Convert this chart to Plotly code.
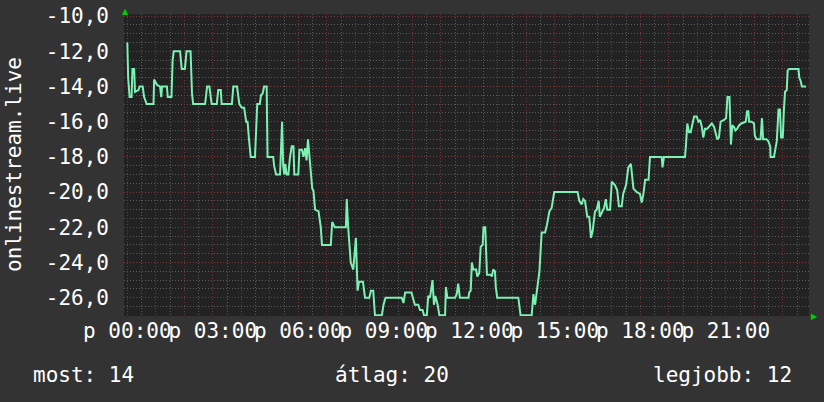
import plotly.graph_objects as go

# ---- data (hours since 00:00, temperature) ----
hours = [0.00, 0.03, 0.08, 0.15, 0.18, 0.24, 0.27, 0.39, 0.43, 0.54, 0.59, 0.68, 0.92, 0.94, 1.04, 1.15, 1.19, 1.22,
         1.39, 1.42, 1.55, 1.59, 1.63, 1.85, 1.91, 2.02, 2.08, 2.22, 2.27, 2.31, 2.73, 2.80, 2.88, 2.96, 3.14, 3.19,
         3.28, 3.31, 3.67, 3.72, 3.85, 3.93, 4.02, 4.10, 4.17, 4.22, 4.27, 4.33, 4.48, 4.51, 4.56, 4.65, 4.69, 4.75,
         4.80, 4.89, 4.92, 5.12, 5.15, 5.22, 5.36, 5.43, 5.47, 5.51, 5.54, 5.59, 5.65, 5.71, 5.77, 5.83, 5.86, 6.00,
         6.04, 6.13, 6.18, 6.24, 6.29, 6.34, 6.41, 6.49, 6.53, 6.59, 6.71, 6.79, 6.83, 7.14, 7.19, 7.28, 7.67, 7.70,
         7.75, 7.84, 7.93, 8.02, 8.08, 8.13, 8.27, 8.34, 8.49, 8.55, 8.63, 8.69, 8.93, 8.99, 9.06, 9.63, 9.69, 9.75,
         9.97, 10.03, 10.09, 10.21, 10.27, 10.36, 10.41, 10.51, 10.56, 10.62, 10.71, 10.76, 10.81, 10.89, 10.95,
         11.15, 11.18, 11.23, 11.50, 11.56, 11.61, 11.67, 11.97, 12.00, 12.05, 12.09, 12.14, 12.24, 12.28, 12.35,
         12.40, 12.47, 12.50, 12.56, 12.59, 12.62, 12.76, 12.79, 12.84, 12.90, 12.93, 12.98, 13.72, 13.80, 14.19,
         14.25, 14.31, 14.37, 14.46, 14.54, 14.66, 14.72, 14.81, 14.89, 14.98, 15.80, 15.86, 15.94, 16.00, 16.06,
         16.14, 16.21, 16.27, 16.33, 16.41, 16.47, 16.54, 16.58, 16.65, 16.73, 16.79, 16.84, 16.94, 17.00, 17.11,
         17.19, 17.25, 17.35, 17.40, 17.50, 17.58, 17.67, 17.76, 17.88, 17.99, 18.05, 18.11, 18.17, 18.29, 18.34,
         18.75, 18.78, 18.83, 19.57, 19.60, 19.65, 19.71, 19.77, 19.82, 19.89, 19.98, 20.04, 20.10, 20.16, 20.21,
         20.27, 20.35, 20.45, 20.51, 20.59, 20.66, 20.70, 20.76, 20.82, 20.94, 21.01, 21.06, 21.13, 21.18, 21.23,
         21.29, 21.34, 21.40, 21.47, 21.55, 21.70, 21.75, 21.79, 21.82, 21.91, 21.99, 22.02, 22.08, 22.22, 22.27,
         22.31, 22.43, 22.49, 22.56, 22.57, 22.69, 22.74, 22.79, 22.85, 22.90, 22.94, 23.00, 23.04, 23.08, 23.14,
         23.17, 23.23, 23.55, 23.58, 23.63, 23.67, 23.82]
temps = [-11.5, -13.5, -14.6, -14.6, -13.0, -13.0, -14.3, -14.2, -14.0, -14.0, -14.6, -15.0, -15.0, -13.6, -13.9,
         -14.0, -14.6, -14.0, -14.0, -14.6, -14.6, -12.5, -12.0, -12.0, -13.0, -13.0, -12.0, -12.0, -14.4, -15.0,
         -15.0, -14.0, -14.0, -15.0, -15.0, -14.2, -14.2, -15.0, -15.0, -14.0, -14.0, -15.0, -15.2, -15.2, -16.0,
         -16.0, -17.0, -18.0, -18.0, -17.0, -15.0, -15.0, -14.5, -14.4, -14.0, -14.0, -18.0, -18.0, -18.5, -19.0,
         -19.0, -16.0, -18.5, -19.0, -18.4, -19.0, -19.0, -18.0, -17.4, -17.4, -19.0, -19.0, -17.6, -17.6, -18.0,
         -17.5, -18.2, -17.0, -18.2, -19.8, -19.9, -21.0, -21.1, -22.0, -23.0, -23.0, -21.7, -22.0, -22.0, -20.4,
         -22.0, -24.0, -24.4, -22.6, -25.6, -25.1, -25.1, -26.0, -26.0, -25.6, -25.6, -27.0, -27.0, -26.4, -26.0,
         -26.0, -26.3, -25.7, -25.7, -26.0, -26.4, -26.4, -26.7, -26.7, -27.0, -27.0, -25.9, -26.0, -25.0, -26.4,
         -25.9, -26.4, -27.0, -27.0, -25.4, -26.0, -26.0, -25.8, -25.2, -26.0, -26.0, -25.7, -25.6, -24.0, -24.4,
         -24.4, -24.8, -24.6, -23.1, -23.0, -22.0, -22.0, -24.0, -24.7, -24.7, -24.8, -24.4, -24.5, -25.4, -26.0,
         -26.0, -27.0, -27.0, -25.8, -26.4, -25.5, -24.5, -22.3, -22.3, -21.9, -21.1, -20.9, -20.0, -20.0, -20.5,
         -20.7, -20.4, -20.5, -21.4, -21.4, -22.6, -22.2, -21.1, -21.0, -20.5, -21.4, -21.2, -20.9, -20.4, -21.0,
         -21.0, -19.4, -19.6, -19.9, -20.8, -20.8, -20.1, -19.6, -18.6, -18.4, -19.8, -20.0, -20.1, -20.6, -20.1,
         -19.3, -19.3, -18.0, -18.0, -18.6, -18.0, -18.0, -17.4, -16.1, -16.6, -16.6, -16.2, -15.7, -15.7, -16.0,
         -15.9, -16.3, -16.9, -16.4, -16.4, -16.2, -16.1, -16.3, -16.7, -17.0, -16.9, -16.0, -15.9, -15.8, -14.6,
         -14.6, -17.3, -16.2, -16.3, -16.5, -16.4, -16.2, -16.1, -16.0, -15.4, -15.4, -16.0, -16.0, -16.1, -16.8,
         -17.0, -17.0, -15.8, -17.0, -17.0, -17.1, -17.4, -18.0, -18.0, -17.4, -17.1, -15.3, -15.3, -16.9, -16.9,
         -15.3, -14.3, -14.2, -13.1, -13.0, -13.0, -13.5, -13.7, -14.0, -14.0]

y_tick_values = [-10, -12, -14, -16, -18, -20, -22, -24, -26]
x_label_hours = [0, 3, 6, 9, 12, 15, 18, 21]
x_label_texts = ["p 00:00", "p 03:00", "p 06:00", "p 09:00", "p 12:00", "p 15:00", "p 18:00", "p 21:00"]
x_grid_hours = list(range(0, 24))
series_name = "onlinestream.live"
legend_labels = ["most", "átlag", "legjobb"]
legend_values = [14, 20, 12]

# ---- styling / layout ----
W, H = 824, 402
L, R, T, B = 124, 15, 14, 86
PW, PH = W - L - R, H - T - B
FONT = "DejaVu Sans Mono"
BG = "#333333"
PLOT_BG = "#222222"
LINE = "#7df0b4"
MINOR = "#5a5a5a"
MAJOR = "#7a3636"


def px_x(px):
    return (px - L) / PW


def px_y(py):
    return (H - B - py) / PH


x_ticktext = [x_label_texts[x_label_hours.index(h)] if h in x_label_hours else "" for h in x_grid_hours]
y_ticktext = [f"{v:.1f}".replace(".", ",") for v in y_tick_values]

fig = go.Figure()
fig.add_trace(go.Scatter(x=hours, y=temps, mode="lines",
                         line=dict(color=LINE, width=2), hoverinfo="skip", showlegend=False))

fig.update_layout(
    width=W, height=H,
    margin=dict(l=L, r=R, t=T, b=B, pad=0),
    paper_bgcolor=BG, plot_bgcolor=PLOT_BG,
    font=dict(family=FONT, size=21, color="#ffffff"),
    showlegend=False,
)

fig.update_xaxes(
    range=[-0.116, 23.92],
    tickmode="array", tickvals=x_grid_hours, ticktext=x_ticktext,
    showgrid=True, gridcolor=MAJOR, griddash="1px,2px", gridwidth=1,
    minor=dict(tickmode="linear", tick0=0, dtick=0.5, showgrid=True,
               gridcolor=MINOR, griddash="1px,2px", gridwidth=1),
    zeroline=False, showline=False, ticks="",
    tickangle=0, automargin=False,
    tickfont=dict(family=FONT, size=21, color="#ffffff"),
    ticklabelstandoff=0,
    fixedrange=True,
)
fig.update_yaxes(
    range=[-27.04, -9.88],
    tickmode="array", tickvals=y_tick_values, ticktext=y_ticktext,
    showgrid=True, gridcolor=MAJOR, griddash="1px,2px", gridwidth=1,
    minor=dict(tickmode="linear", tick0=-27, dtick=0.5, showgrid=True,
               gridcolor=MINOR, griddash="1px,2px", gridwidth=1),
    zeroline=False, showline=False, ticks="",
    automargin=False,
    tickfont=dict(family=FONT, size=21, color="#ffffff"),
    ticklabelstandoff=14,
    fixedrange=True,
)

annotations = [
    dict(text=series_name, x=px_x(14), y=px_y(165), xref="paper", yref="paper",
         textangle=-90, showarrow=False, font=dict(family=FONT, size=21, color="#ffffff"),
         xanchor="center", yanchor="middle"),
    dict(text=f"{legend_labels[0]}: {legend_values[0]}", x=px_x(31), y=px_y(375), xref="paper", yref="paper",
         showarrow=False, xanchor="left", yanchor="middle", font=dict(family=FONT, size=21, color="#ffffff")),
    dict(text=f"{legend_labels[1]}: {legend_values[1]}", x=px_x(333), y=px_y(375), xref="paper", yref="paper",
         showarrow=False, xanchor="left", yanchor="middle", font=dict(family=FONT, size=21, color="#ffffff")),
    dict(text=f"{legend_labels[2]}: {legend_values[2]}", x=px_x(794), y=px_y(375), xref="paper", yref="paper",
         showarrow=False, xanchor="right", yanchor="middle", font=dict(family=FONT, size=21, color="#ffffff")),
    dict(text="▲", x=px_x(125), y=px_y(11), xref="paper", yref="paper", showarrow=False,
         xanchor="center", yanchor="middle", font=dict(family="DejaVu Sans", size=8, color="#00cc00")),
    dict(text="▶", x=px_x(814), y=px_y(316), xref="paper", yref="paper", showarrow=False,
         xanchor="center", yanchor="middle", font=dict(family="DejaVu Sans", size=8, color="#00cc00")),
]
fig.update_layout(annotations=annotations)

fig.write_html("out.html", config={"displayModeBar": False},
               post_script="document.body.style.margin='0';document.body.style.background='#333333';")
